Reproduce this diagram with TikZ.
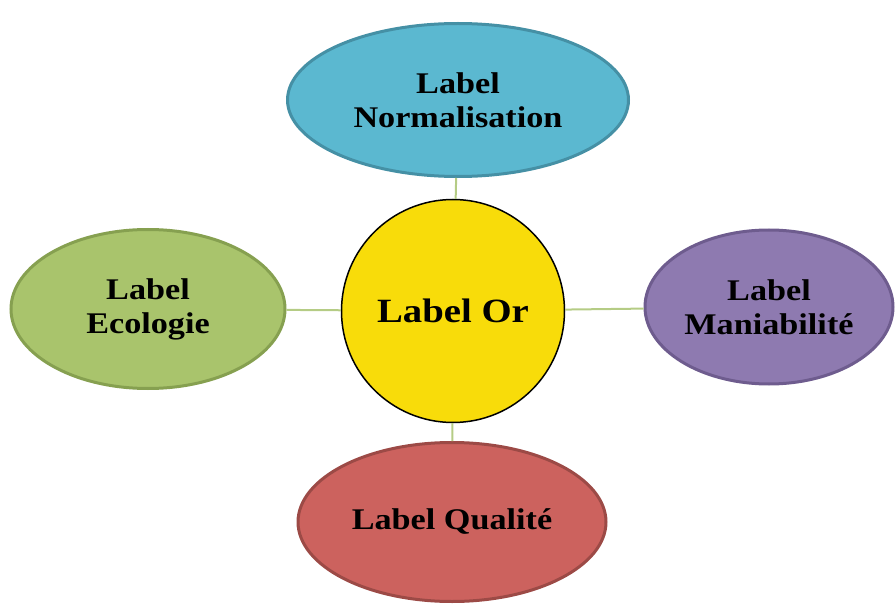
\documentclass[tikz,border=0pt]{standalone}
\usepackage{fontspec}
\setmainfont{Liberation Serif}[FakeStretch=1.14]
\usepackage{xcolor}
\usetikzlibrary{shapes.geometric}

\definecolor{blueFill}{HTML}{5BB8D0}
\definecolor{blueLine}{HTML}{4590A5}
\definecolor{greenFill}{HTML}{A9C46C}
\definecolor{greenLine}{HTML}{86A050}
\definecolor{purpleFill}{HTML}{8E7AB0}
\definecolor{purpleLine}{HTML}{6E5C8E}
\definecolor{redFill}{HTML}{CC625E}
\definecolor{redLine}{HTML}{9C4A46}
\definecolor{goldFill}{HTML}{F8DC0A}
\definecolor{linkLine}{HTML}{B5CC85}

\begin{document}
\begin{tikzpicture}[x=1pt, y=-1pt]

  \tikzstyle{label}=[ellipse, line width=3pt, align=center, inner sep=0pt,
    font=\fontsize{30}{34}\selectfont\bfseries]
  \tikzstyle{norm}=[label, fill=blueFill, draw=blueLine]
  \tikzstyle{eco}=[label, fill=greenFill, draw=greenLine]
  \tikzstyle{mania}=[label, fill=purpleFill, draw=purpleLine]
  \tikzstyle{qual}=[label, fill=redFill, draw=redLine]
  \tikzstyle{link}=[draw=linkLine, line width=2pt]

  \useasboundingbox (0,0) rectangle (895,607);

  \node [circle, draw, line width=1.5pt, fill=goldFill, minimum size=223pt,
    inner sep=0pt, font=\fontsize{34}{40}\selectfont\bfseries] (or) at (453,311) {Label Or};

  \node [norm, minimum width=341pt, minimum height=153pt] (N) at (458,100) {Label\\Normalisation};
  \node [eco, minimum width=274pt, minimum height=159pt] (E) at (148,309) {Label\\Ecologie};
  \node [mania, minimum width=248pt, minimum height=154pt] (M) at (769,307) {Label\\Maniabilité};
  \node [qual, minimum width=308pt, minimum height=159pt] (Q) at (452,522) {Label Qualité};

  \draw [link] (or) -- (N);
  \draw [link] (or) -- (E);
  \draw [link] (or) -- (M);
  \draw [link] (or) -- (Q);
\end{tikzpicture}
\end{document}
